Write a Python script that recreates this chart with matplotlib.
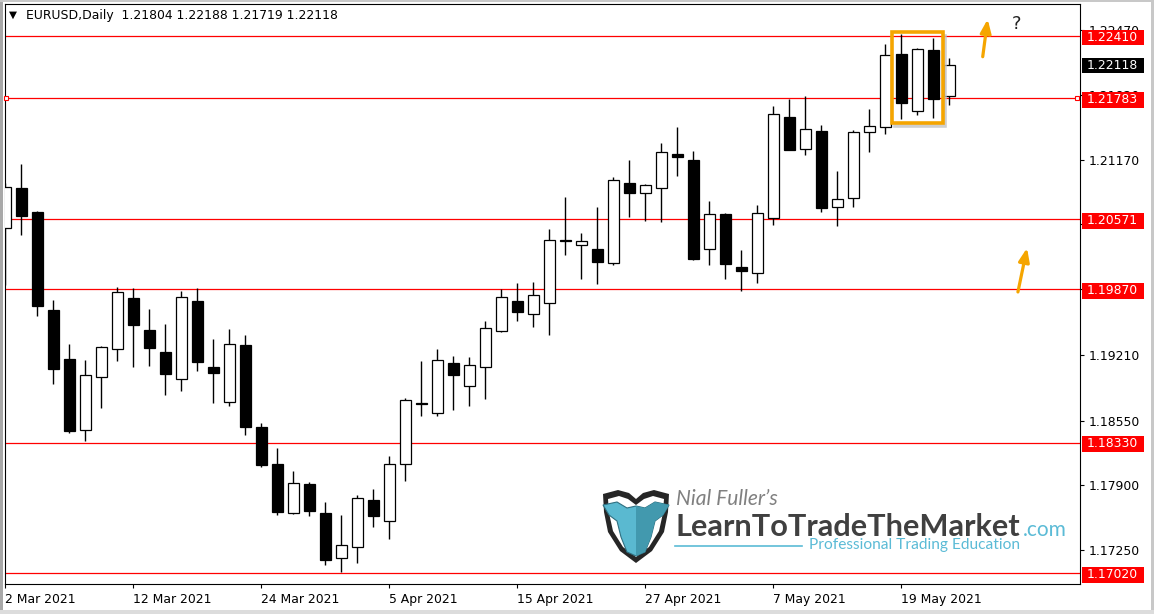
import matplotlib
matplotlib.use('Agg')
import matplotlib.pyplot as plt
import matplotlib.transforms as mtransforms
from matplotlib.patches import Rectangle, Polygon
import numpy as np
import pandas as pd

plt.rcParams['font.family'] = ['DejaVu Sans']

# EURUSD daily candles, 2 Mar 2021 .. 24 May 2021
dates = pd.bdate_range('2021-03-02', '2021-05-24')
opens = [1.20480, 1.20881, 1.20643, 1.19660, 1.19168, 1.18452, 1.18990, 1.19265, 1.19780, 1.19459,
         1.19238, 1.18970, 1.19750, 1.19088, 1.18733, 1.19309, 1.18486, 1.18114, 1.17625, 1.17913,
         1.17622, 1.17174, 1.17284, 1.17750, 1.17545, 1.18111, 1.18726, 1.18623, 1.19125, 1.18894,
         1.19085, 1.19446, 1.19747, 1.19617, 1.19727, 1.20359, 1.20309, 1.20269, 1.20129, 1.20932,
         1.20831, 1.20881, 1.21223, 1.21165, 1.20269, 1.20623, 1.20088, 1.20028, 1.20580, 1.21597,
         1.21273, 1.21456, 1.20691, 1.20781, 1.21443, 1.21494, 1.22229, 1.21654, 1.22267, 1.21804]
highs = [1.20932, 1.21125, 1.20654, 1.19760, 1.19319, 1.19158, 1.19298, 1.19891, 1.19881, 1.19670,
         1.19519, 1.19851, 1.19881, 1.19369, 1.19469, 1.19409, 1.18526, 1.18275, 1.18044, 1.17933,
         1.17733, 1.17602, 1.17803, 1.17863, 1.18194, 1.18777, 1.19148, 1.19265, 1.19198, 1.19185,
         1.19549, 1.19871, 1.19931, 1.19941, 1.20473, 1.20794, 1.20433, 1.20694, 1.20995, 1.21165,
         1.20925, 1.21336, 1.21497, 1.21256, 1.20754, 1.20633, 1.20262, 1.20714, 1.21707, 1.21778,
         1.21808, 1.21517, 1.21055, 1.21467, 1.21677, 1.22333, 1.22430, 1.22287, 1.22387, 1.22188]
lows = [1.19911, 1.20416, 1.19603, 1.18920, 1.18428, 1.18348, 1.18679, 1.19151, 1.19091, 1.19101,
        1.18810, 1.18850, 1.19051, 1.18729, 1.18699, 1.18410, 1.18087, 1.17605, 1.17615, 1.17595,
        1.17103, 1.17033, 1.17124, 1.17485, 1.17361, 1.17947, 1.18596, 1.18599, 1.18659, 1.18701,
        1.18770, 1.19440, 1.19552, 1.19492, 1.19412, 1.20215, 1.19974, 1.19924, 1.20115, 1.20596,
        1.20558, 1.20546, 1.21008, 1.20159, 1.20115, 1.19974, 1.19848, 1.19928, 1.20516, 1.21265,
        1.21219, 1.20647, 1.20506, 1.20697, 1.21249, 1.21431, 1.21580, 1.21620, 1.21587, 1.21719]
closes = [1.20891, 1.20606, 1.19703, 1.19071, 1.18448, 1.19004, 1.19285, 1.19837, 1.19512, 1.19281,
          1.19020, 1.19790, 1.19141, 1.19031, 1.19316, 1.18489, 1.18104, 1.17632, 1.17920, 1.17642,
          1.17154, 1.17298, 1.17770, 1.17595, 1.18111, 1.18754, 1.18713, 1.19155, 1.19010, 1.19105,
          1.19476, 1.19787, 1.19643, 1.19807, 1.20359, 1.20357, 1.20349, 1.20142, 1.20962, 1.20837,
          1.20912, 1.21243, 1.21191, 1.20175, 1.20620, 1.20125, 1.20048, 1.20630, 1.21627, 1.21269,
          1.21474, 1.20687, 1.20774, 1.21446, 1.21504, 1.22216, 1.21741, 1.22277, 1.21781, 1.22118]

levels = [1.22410, 1.21783, 1.20571, 1.19870, 1.18330, 1.17020]
price_ticks = [1.22470, 1.21820, 1.21170, 1.20520, 1.19870, 1.19210, 1.18550, 1.17900, 1.17250]
symbol = 'EURUSD,Daily'

orange = '#f5a500'
red = '#ff0000'
W, H = 1154, 614

fig = plt.figure(figsize=(W / 100, H / 100), dpi=100)
fig.patch.set_facecolor('white')
ax = fig.add_axes([5 / W, 1 - 584 / H, 1075 / W, 580 / H])

o = np.array(opens)
c = np.array(closes)
x = np.arange(len(dates))
up = c >= o

# support / resistance lines sit behind the candles
for lvl in levels:
    ax.axhline(lvl, color=red, lw=0.9, zorder=1)
ax.plot([0.001, 0.997], [levels[1], levels[1]], ls='none', marker='s', ms=3.3, mfc='white', mec=red, mew=0.8,
        transform=mtransforms.blended_transform_factory(ax.transAxes, ax.transData), clip_on=False, zorder=6)

ax.vlines(x, lows, highs, color='black', lw=1.0, zorder=2)
body_h = np.maximum(np.abs(c - o), 0.00002)
ax.bar(x, body_h, width=0.66, bottom=np.minimum(o, c), color=np.where(up, 'white', 'black'),
       edgecolor='black', linewidth=0.9, zorder=3)

ax.set_xlim(-0.02, 67.17)
ax.set_ylim(1.16910, 1.22731)

ax.set_xticks(x[::8])
ax.set_xticklabels(['%d %s' % (d.day, d.strftime('%b %Y')) for d in dates[::8]])
for lab in ax.get_xticklabels():
    lab.set_horizontalalignment('left')
ax.tick_params(axis='x', length=3, width=0.8, pad=3.5, labelsize=8.9, color='black')

ax.yaxis.tick_right()
ax.set_yticks(price_ticks)
ax.set_yticklabels(['%.5f' % v for v in price_ticks])
ax.tick_params(axis='y', length=3, width=0.8, pad=3.5, labelsize=8.9)
for sp in ax.spines.values():
    sp.set_linewidth(0.8)
    sp.set_color('black')

# price labels on the right scale (they cover some of the tick labels, as in MT4)
tr = mtransforms.blended_transform_factory(ax.transAxes, ax.transData)
box_h = 0.00160
for lvl in levels:
    ax.add_patch(Rectangle((1.0019, lvl - 0.00015 - box_h / 2), 0.0577, box_h, transform=tr,
                           facecolor=red, edgecolor='none', clip_on=False, zorder=5))
    ax.text(1.0065, lvl - 0.00012, '%.5f' % lvl, transform=tr, color='white', fontsize=8.9,
            va='center', ha='left', clip_on=False, zorder=6)
last = closes[-1]
ax.add_patch(Rectangle((1.0019, last - 0.00004 - box_h / 2), 0.0577, box_h, transform=tr,
                       facecolor='black', edgecolor='none', clip_on=False, zorder=5))
ax.text(1.0065, last, '%.5f' % last, transform=tr, color='white', fontsize=8.9,
        va='center', ha='left', clip_on=False, zorder=6)

# orange box round the three-bar pattern (with a soft shadow), arrows and question mark
bx0, by0, bw, bh = 55.42, 1.21534, 3.18, 0.00919
ax.plot([bx0 + bw + 0.14, bx0 + bw + 0.14, bx0 + 0.2], [by0 + bh - 0.0004, by0 - 0.00028, by0 - 0.00028],
        color='#c4c4c4', lw=2.6, alpha=0.8, solid_joinstyle='miter', zorder=4)
ax.add_patch(Rectangle((bx0, by0), bw, bh, fill=False, edgecolor=orange, lw=2.6, zorder=5))
arrow = dict(arrowstyle='-|>,head_width=0.32,head_length=0.8', color=orange, lw=2.3, shrinkA=0, shrinkB=0)
ax.annotate('', xy=(61.40, 1.22578), xytext=(61.09, 1.22202), arrowprops=arrow, zorder=5)
ax.annotate('', xy=(63.86, 1.20282), xytext=(63.29, 1.19841), arrowprops=arrow, zorder=5)
ax.text(63.23, 1.22530, '?', fontsize=13, color='#222222', ha='center', va='center', zorder=5)

# overlay in pixel units for header, logo and window border
ov = fig.add_axes([0, 0, 1, 1], zorder=10)
ov.set_xlim(0, W)
ov.set_ylim(H, 0)
ov.axis('off')
ov.patch.set_alpha(0)

ov.text(12.5, 14.5, '\u25bc', fontsize=7.5, ha='center', va='center')
ov.text(26, 15.5, '%s  %.5f %.5f %.5f %.5f' % (symbol, opens[-1], highs[-1], lows[-1], closes[-1]),
        fontsize=8.9, va='center', ha='left')

ov.add_patch(Rectangle((0, 0), 2.5, H, color='#a8a8a8', lw=0))
ov.add_patch(Rectangle((1151, 0), 3, H, color='#c8c8c8', lw=0))
ov.add_patch(Rectangle((0, 610), W, 4, color='#dcdcdc', lw=0))
ov.add_patch(Rectangle((0, 0), W, 1.5, color='#c8c8c8', lw=0))

renderer = fig.canvas.get_renderer()


def fit_text(px, py, s, width, **kw):
    t = ov.text(px, py, s, **kw)
    w = t.get_window_extent(renderer=renderer).width
    t.set_fontsize(t.get_fontsize() * width / w)
    return t


# logo
ov.add_patch(Polygon([(603, 494), (618, 490), (629, 493), (636, 499), (643, 493), (654, 490), (669, 494),
                      (668, 512), (664, 532), (652, 551), (636, 563), (620, 551), (608, 532), (604, 512)],
                     closed=True, facecolor='#262626', edgecolor='none'))
ov.add_patch(Polygon([(608, 499), (619, 496), (628, 499), (636, 505), (644, 499), (653, 496), (664, 499),
                      (663, 513), (659, 531), (649, 547), (636, 557), (623, 547), (613, 531), (609, 513)],
                     closed=True, facecolor='white', edgecolor='none'))
ov.add_patch(Polygon([(603, 505), (617, 502), (627, 508), (636, 506), (645, 508), (655, 502), (669, 505),
                      (663, 515), (655, 521), (651, 537), (645, 552), (636, 556), (627, 552), (621, 537),
                      (617, 521), (609, 515)],
                     closed=True, facecolor='#5ab9d0', edgecolor='#2f6f80', lw=0.8))
ov.add_patch(Polygon([(636, 506), (645, 508), (655, 502), (669, 505), (663, 515), (655, 521), (651, 537),
                      (645, 552), (636, 556)], closed=True, facecolor='#4299ae', edgecolor='none'))

fit_text(676, 505, 'Nial Fuller\u2019s', 102, fontsize=14, family=['Lato', 'DejaVu Sans'], style='italic',
         color='#808080', va='baseline')
fit_text(675, 536, 'LearnToTradeTheMarket', 345, fontsize=28, family=['Lato', 'DejaVu Sans'], weight='bold',
         color='#404040', va='baseline')
fit_text(1023, 536, '.com', 44, fontsize=15, family=['Lato', 'DejaVu Sans'], color='#5bbbd6', va='baseline')
ov.plot([675, 802], [546, 546], color='#5bbbd6', lw=1.2)
fit_text(809, 545, 'Professional Trading Education', 211, fontsize=12, family=['Lato', 'DejaVu Sans'],
         color='#5bbbd6', va='center')

fig.savefig('out.png', dpi=100)
